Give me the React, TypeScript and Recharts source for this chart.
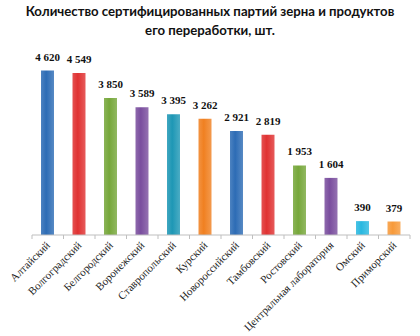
import React from "react";
import { BarChart, Bar, XAxis, YAxis, Cell, LabelList } from "recharts";

// филиалы и число сертифицированных партий
const labs = [
  "Алтайский",
  "Волгоградский",
  "Белгородский",
  "Воронежский",
  "Ставропольский",
  "Курский",
  "Новороссийский",
  "Тамбовский",
  "Ростовский",
  "Центральная  лаборатория",
  "Омский",
  "Приморский",
];
const batches = [4620, 4549, 3850, 3589, 3395, 3262, 2921, 2819, 1953, 1604, 390, 379];
const COLORS = [
  "#2D6CB5",
  "#E03232",
  "#76A73A",
  "#7A4E9E",
  "#1E97B5",
  "#F08021",
  "#2D6CB5",
  "#E03232",
  "#76A73A",
  "#7A4E9E",
  "#29B8E0",
  "#F79A3A",
];

const W = 420;
const H = 336;
const LEFT = 32;
const RIGHT = 10;
const BAND = (W - LEFT - RIGHT) / labs.length;

const data = labs.map((name, i) => ({ name, value: batches[i] }));

// неразрывный пробел, чтобы подпись не переносилась
const fmt = (v: any) => String(v).replace(/\B(?=(\d{3})+(?!\d))/g, "\u00A0");

// подпись под осью, повернутая на 45 градусов, плюс засечки по границам
const Tick = (props: any) => {
  const { x, y, payload, index } = props;
  const half = BAND / 2;
  return (
    <g>
      <line x1={x - half} x2={x - half} y1={y - 8} y2={y - 4} stroke="#bfbfbf" />
      {index === labs.length - 1 && (
        <line x1={x + half} x2={x + half} y1={y - 8} y2={y - 4} stroke="#bfbfbf" />
      )}
      <text
        x={x + 3}
        y={y + 3}
        textAnchor="end"
        transform={`rotate(-45, ${x + 3}, ${y + 3})`}
        fontFamily="'Liberation Serif', 'Times New Roman', serif"
        fontSize={11}
        fill="#222"
      >
        {payload.value}
      </text>
    </g>
  );
};

export default function App() {
  return (
    <div style={{ position: "absolute", left: 0, top: 0, width: W, height: H, background: "#fff" }}>
      <div
        style={{
          position: "absolute",
          left: 0,
          top: 2,
          width: W,
          textAlign: "center",
          fontFamily: "Lato, 'Open Sans', sans-serif",
          fontWeight: 700,
          fontSize: 13.2,
          lineHeight: "19px",
          color: "#111",
        }}
      >
        Количество сертифицированных партий зерна и продуктов
        <br />
        его переработки, шт.
      </div>
      <BarChart
        width={W}
        height={H}
        data={data}
        margin={{ top: 57, right: RIGHT, left: LEFT, bottom: 0 }}
      >
        <defs>
          {COLORS.map((c, i) => (
            <linearGradient key={i} id={`g${i}`} x1="0" y1="0" x2="1" y2="0">
              <stop offset="0%" stopColor={c} stopOpacity={0.85} />
              <stop offset="40%" stopColor={c} stopOpacity={1} />
              <stop offset="100%" stopColor={c} stopOpacity={0.8} />
            </linearGradient>
          ))}
        </defs>
        <YAxis hide domain={[0, 5000]} />
        <XAxis
          dataKey="name"
          interval={0}
          height={101}
          tickLine={false}
          axisLine={{ stroke: "#bfbfbf" }}
          tick={<Tick />}
        />
        <Bar dataKey="value" barSize={13} isAnimationActive={false}>
          {data.map((d, i) => (
            <Cell key={d.name} fill={`url(#g${i})`} />
          ))}
          <LabelList
            dataKey="value"
            position="top"
            offset={10}
            formatter={fmt}
            style={{
              fontFamily: "'Liberation Serif', 'Times New Roman', serif",
              fontWeight: 700,
              fontSize: 11,
              fill: "#111",
            }}
          />
        </Bar>
      </BarChart>
    </div>
  );
}
